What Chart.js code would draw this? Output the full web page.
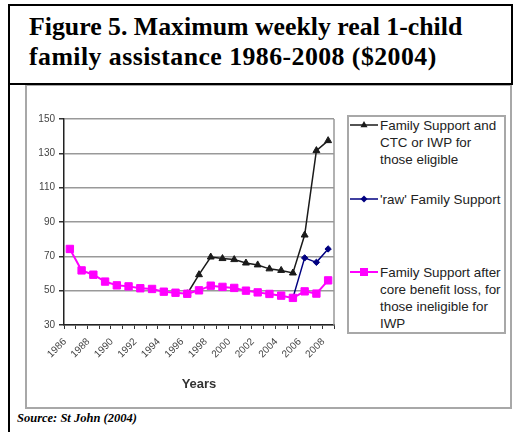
<!DOCTYPE html>
<html>
<head>
<meta charset="utf-8">
<title>Figure 5. Maximum weekly real 1-child family assistance</title>
<script src="https://cdn.jsdelivr.net/npm/chart.js"></script>
<style>
    html, body { margin: 0; padding: 0; background: #fff; }
    body { width: 513px; height: 432px; position: relative; overflow: hidden; }
    .chart-box { position: absolute; left: 25px; top: 84px; width: 487px; height: 325px; box-sizing: border-box; border: 2px solid #a8a8a8; }
    .title-box { position: absolute; left: 8px; top: 4px; width: 505px; height: 81px; box-sizing: border-box; border: 2px solid #000; }
    .frame-left { position: absolute; left: 8px; top: 4px; width: 2px; height: 428px; background: #000; }
    .title { position: absolute; left: 29px; top: 12px; font: bold 25.8px/30px "Liberation Serif", "Times New Roman", serif; color: #000; white-space: nowrap; }
    .title .wide { letter-spacing: 0.45px; }
    #chart { position: absolute; left: 27px; top: 86px; }
    .legend { position: absolute; left: 347px; top: 115px; width: 159px; height: 219px; box-sizing: border-box; border: 2px solid #a8a8a8; }
    .legend-text { position: absolute; left: 380px; font: 13.4px/17px "Liberation Sans", Arial, sans-serif; color: #222; white-space: nowrap; }
    .legend-key { position: absolute; left: 349px; width: 30px; height: 12px; }
    .source { position: absolute; left: 17px; top: 411px; font: italic bold 12.5px/14px "Liberation Serif", "Times New Roman", serif; color: #000; white-space: nowrap; }
</style>
</head>
<body>
    <div class="chart-box"></div>
    <div class="title-box"></div>
    <div class="frame-left"></div>
    <div class="title">Figure 5. Maximum weekly real 1-child<br><span class="wide">family assistance 1986-2008 ($2004)</span></div>

    <canvas id="chart" width="318" height="320"></canvas>

    <div class="legend"></div>
    <svg class="legend-key" style="top: 119px;" viewBox="0 0 30 12">
        <line x1="1" y1="6" x2="29" y2="6" stroke="#1a1a1a" stroke-width="1.5"/>
        <polygon points="15,2 18.5,8.3 11.5,8.3" fill="#1a1a1a"/>
    </svg>
    <div class="legend-text" style="top: 116.5px;">Family Support and<br>CTC or IWP for<br>those eligible</div>
    <svg class="legend-key" style="top: 193px;" viewBox="0 0 30 12">
        <line x1="1" y1="6" x2="29" y2="6" stroke="#000080" stroke-width="1.5"/>
        <polygon points="15,2.5 18.5,6 15,9.5 11.5,6" fill="#000080"/>
    </svg>
    <div class="legend-text" style="top: 190.5px;">'raw' Family Support</div>
    <svg class="legend-key" style="top: 266px;" viewBox="0 0 30 12">
        <line x1="1" y1="6" x2="29" y2="6" stroke="#ff00ff" stroke-width="2"/>
        <rect x="11" y="2" width="8" height="8" fill="#ff00ff"/>
    </svg>
    <div class="legend-text" style="top: 264px;">Family Support after<br>core benefit loss, for<br>those ineligible for<br>IWP</div>

    <div class="source">Source: St John (2004)</div>

    <script>
        // Weekly amounts in 2004 dollars, one value per year
        const years = ['1986', '1987', '1988', '1989', '1990', '1991', '1992', '1993',
            '1994', '1995', '1996', '1997', '1998', '1999', '2000', '2001',
            '2002', '2003', '2004', '2005', '2006', '2007', '2008'];

        const supportCtcIwp = [null, null, null, null, null, null, null, null,
            null, null, 48.2, 59.3, 69.6, 68.7, 68.1, 66.1,
            65.0, 62.7, 61.8, 60.3, 82.4, 131.6, 137.4];

        const rawSupport = [null, null, null, null, null, null, null, null,
            null, null, null, null, null, null, null, null,
            null, null, null, 45.8, 69.1, 66.5, 74.3];

        const supportAfterLoss = [74.3, 61.8, 59.3, 55.3, 53.1, 52.5, 51.4, 51.0,
            49.4, 48.8, 48.2, 50.2, 52.9, 52.2, 51.6, 50.0,
            49.0, 48.1, 47.1, 45.8, 49.6, 48.3, 56.0];

        const yMin = 30;
        const yMax = 150;
        const yStep = 20;

        // grey line closing the plot area on the right
        const plotRightEdge = {
            id: 'plotRightEdge',
            beforeDatasetsDraw(chart) {
                const { ctx, chartArea } = chart;
                ctx.save();
                ctx.strokeStyle = '#999';
                ctx.lineWidth = 1.5;
                ctx.beginPath();
                ctx.moveTo(chartArea.right, chartArea.top);
                ctx.lineTo(chartArea.right, chartArea.bottom);
                ctx.stroke();
                ctx.restore();
            }
        };

        const tickFont = { family: 'Liberation Sans', size: 10 };

        new Chart(document.getElementById('chart'), {
            type: 'line',
            data: {
                labels: years,
                datasets: [{
                    label: 'Family Support and CTC or IWP for those eligible',
                    data: supportCtcIwp,
                    borderColor: '#1a1a1a',
                    backgroundColor: '#1a1a1a',
                    borderWidth: 1.5,
                    pointStyle: 'triangle',
                    pointRadius: 4,
                    pointBorderWidth: 1,
                    order: 2
                }, {
                    label: "'raw' Family Support",
                    data: rawSupport,
                    borderColor: '#000080',
                    backgroundColor: '#000080',
                    borderWidth: 1.5,
                    pointStyle: 'rectRot',
                    pointRadius: 3.2,
                    pointBorderWidth: 1,
                    order: 1
                }, {
                    label: 'Family Support after core benefit loss, for those ineligible for IWP',
                    data: supportAfterLoss,
                    borderColor: '#ff00ff',
                    backgroundColor: '#ff00ff',
                    borderWidth: 2,
                    pointStyle: 'rect',
                    pointRadius: 5.2,
                    pointBorderWidth: 1,
                    order: 0
                }]
            },
            options: {
                responsive: false,
                animation: false,
                layout: { padding: { left: 0, top: 33, right: 11, bottom: 0 } },
                plugins: {
                    legend: { display: false },
                    tooltip: { enabled: false }
                },
                scales: {
                    x: {
                        offset: true,
                        grid: { offset: true, drawOnChartArea: false, tickLength: 4, tickColor: '#333', lineWidth: 1 },
                        border: { color: '#222', width: 1.5 },
                        ticks: {
                            autoSkip: false,
                            minRotation: 45,
                            maxRotation: 45,
                            padding: 7,
                            labelOffset: -5,
                            color: '#444',
                            font: tickFont,
                            callback: (value, index) => index % 2 ? '' : years[index]
                        },
                        title: {
                            display: true,
                            text: 'Years',
                            color: '#333',
                            font: { family: 'Liberation Sans', size: 13, weight: 'bold' },
                            padding: { top: 0, bottom: 14 }
                        },
                        afterFit: (scale) => { scale.height = 81; }
                    },
                    y: {
                        min: yMin,
                        max: yMax,
                        ticks: { stepSize: yStep, padding: 4, color: '#444', font: tickFont },
                        grid: { color: '#999', lineWidth: 1.5, tickColor: '#333', tickLength: 5 },
                        border: { color: '#222', width: 1.5 },
                        afterFit: (scale) => { scale.width = 37; }
                    }
                }
            },
            plugins: [plotRightEdge]
        });
    </script>
</body>
</html>
